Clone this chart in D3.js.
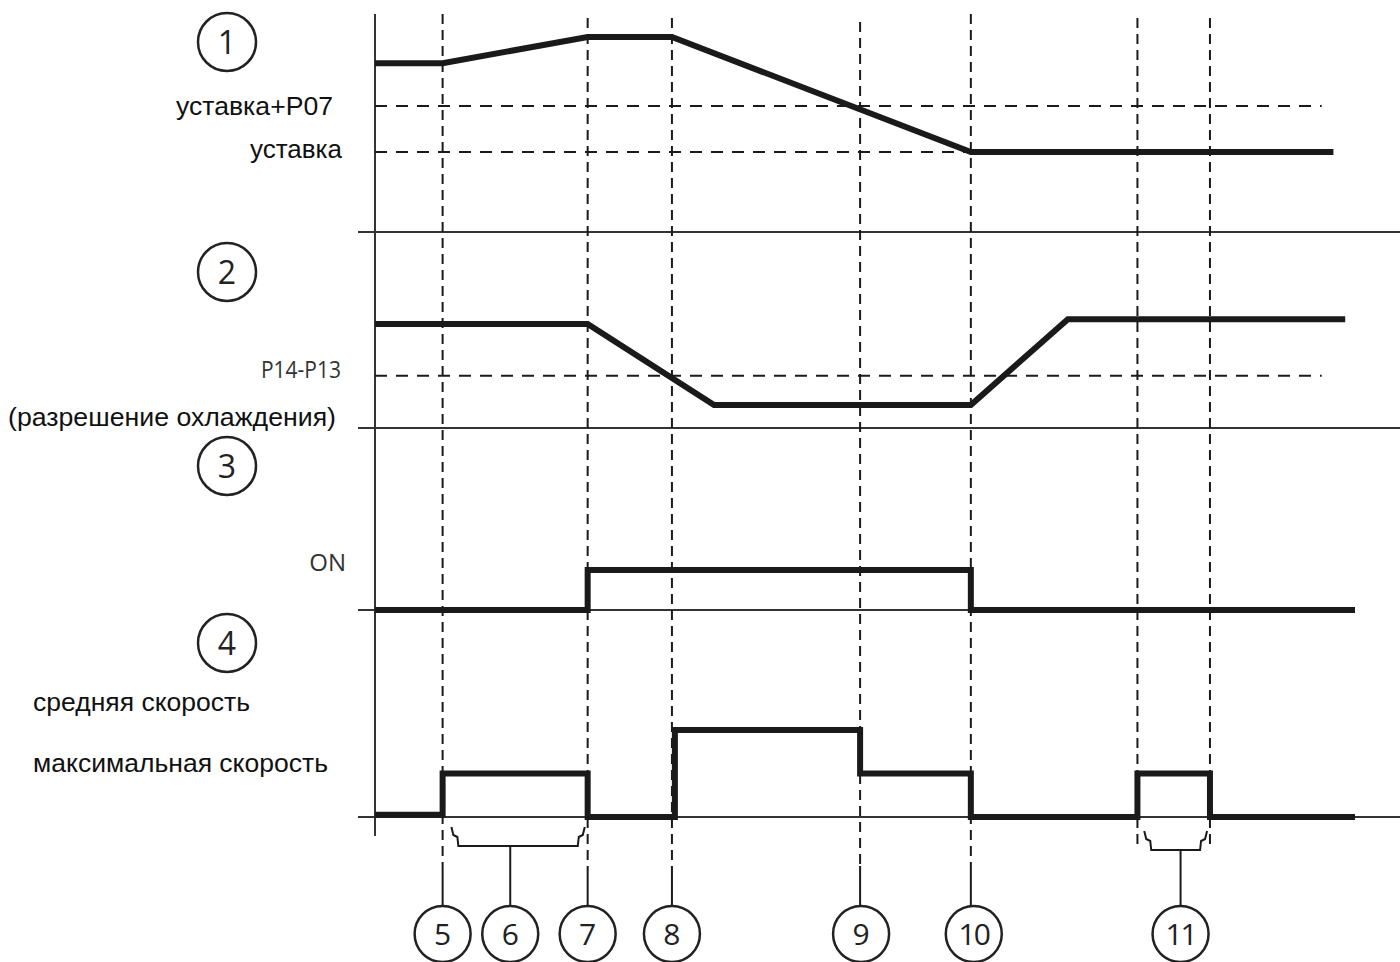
<!DOCTYPE html>
<html><head><meta charset="utf-8">
<script src="https://cdn.jsdelivr.net/npm/d3@7"></script>
<style>body{margin:0;background:#fff}svg{display:block}</style>
</head><body>
<svg id="c" width="1400" height="962"></svg>
<script>
// ---- data (time in abstract units 0..100, levels in panel units) ----
const events = [
  {id:"5", t:6.9},
  {id:"7", t:21.7},
  {id:"8", t:30.3},
  {id:"9", t:49.5},
  {id:"10", t:60.8},
  {id:"11a", t:77.8},
  {id:"11b", t:85.2}
];
const labelsBottom = [
  {n:"5", t:6.9}, {n:"6", t:13.8}, {n:"7", t:21.7}, {n:"8", t:30.3},
  {n:"9", t:49.6}, {n:"10", t:61.1}, {n:"11", t:82.2}
];
// panel 1: temperature (0 = уставка, 1 = уставка+P07)
const temp = [[0,1.93],[6.9,1.93],[21.7,2.5],[30.3,2.5],[60.8,0],[97.8,0]];
const tempRefs = [1, 0];
// panel 2: pressure (0 = low, 1 = high)
const press = [[0,1],[21.7,1],[34.6,0],[60.8,0],[70.7,1.06],[99,1.06]];
const pressRef = 0.36;
// panel 3: compressor
const comp = [[0,0],[21.7,0],[21.7,1],[60.8,1],[60.8,0],[100,0]];
// panel 4: fan speed (1 = средняя, 2 = максимальная)
const fan = [[0,0.05],[6.9,0.05],[6.9,1],[21.7,1],[21.7,0],[30.6,0],[30.6,2],[49.5,2],[49.5,1],[60.8,1],[60.8,0],[77.8,0],[77.8,1],[85.2,1],[85.2,0],[100,0]];
const panelNums = ["1","2","3","4"];

// ---- scales ----
const x = d3.scaleLinear().domain([0,100]).range([375,1355]);
const yT = d3.scaleLinear().domain([0,1]).range([152,106]);
const yP = d3.scaleLinear().domain([0,1]).range([405,324]);
const yC = d3.scaleLinear().domain([0,1]).range([610,570]);
const yF = d3.scaleLinear().domain([0,2]).range([817,730]);

const svg = d3.select("#c");
const ink = "#1a1a1a";
const thin = "#333";

// vertical axis
svg.append("line").attr("x1",x(0)).attr("x2",x(0)).attr("y1",14).attr("y2",836)
  .attr("stroke",thin).attr("stroke-width",2);

// horizontal separators / baselines
[[232,358,1400],[428,358,1400],[yC(0),358,1355],[yF(0),358,1400]].forEach(([y,a,b])=>{
  svg.append("line").attr("x1",a).attr("x2",b).attr("y1",y).attr("y2",y)
    .attr("stroke",thin).attr("stroke-width",2);
});

// dashed reference lines
tempRefs.forEach(v=>{
  svg.append("line").attr("x1",x(0)).attr("x2",x(96.6)).attr("y1",yT(v)).attr("y2",yT(v))
    .attr("stroke",ink).attr("stroke-width",2).attr("stroke-dasharray","12,9");
});
svg.append("line").attr("x1",x(0)).attr("x2",x(96.6)).attr("y1",yP(pressRef)).attr("y2",yP(pressRef))
  .attr("stroke",ink).attr("stroke-width",2).attr("stroke-dasharray","12,9");

// vertical dashed event lines
const tops = {"5":14,"7":18,"8":18,"9":22,"10":14,"11a":18,"11b":18};
events.forEach(e=>{
  const isB = e.id.startsWith("11");
  const bottomDash = isB ? 849 : 866;
  svg.append("line").attr("x1",x(e.t)).attr("x2",x(e.t)).attr("y1",tops[e.id]).attr("y2",bottomDash)
    .attr("stroke",ink).attr("stroke-width",2).attr("stroke-dasharray","10,6");
  if(!isB){
    svg.append("line").attr("x1",x(e.t)).attr("x2",x(e.t)).attr("y1",bottomDash).attr("y2",906)
      .attr("stroke",ink).attr("stroke-width",2);
  }
});

// brackets
function bracket(t0,t1,tc,yb,ytop){
  const a=x(t0), b=x(t1), c=x(tc);
  svg.append("path").attr("d",`M${a-3},${ytop} L${a-1},${ytop+8} L${a+3},${ytop+10} L${a+4},${yb} L${b-4},${yb} L${b-3},${ytop+10} L${b+1},${ytop+8} L${b+3},${ytop}`)
    .attr("fill","none").attr("stroke",ink).attr("stroke-width",2);
  svg.append("line").attr("x1",c).attr("x2",c).attr("y1",yb).attr("y2",906).attr("stroke",ink).attr("stroke-width",2);
}
bracket(8.1,21.1,13.8,846,827);
bracket(78.8,84.6,82.2,850,831);

// thick signal lines
const line = (ys)=>d3.line().x(d=>x(d[0])).y(d=>ys(d[1]));
[[temp,yT],[press,yP],[comp,yC],[fan,yF]].forEach(([d,ys])=>{
  svg.append("path").attr("d",line(ys)(d)).attr("fill","none")
    .attr("stroke",ink).attr("stroke-width",6).attr("stroke-linejoin","miter");
});

// circled numbers
function circ(cx,cy,r,txt,fs){
  svg.append("circle").attr("cx",cx).attr("cy",cy).attr("r",r).attr("fill","#fff")
    .attr("stroke","#222").attr("stroke-width",2.5);
  svg.append("text").attr("x",cx).attr("y",cy).attr("text-anchor","middle").attr("dy","0.36em")
    .attr("font-family","Open Sans, sans-serif").attr("font-size",fs).attr("fill","#222")
    .attr("letter-spacing", txt.length>1? -2:0).text(txt);
}
const leftCy = [42,272,466,643];
panelNums.forEach((n,i)=>circ(227,leftCy[i],29,n,32));
labelsBottom.forEach(l=>circ(x(l.t),934,28,l.n,30));

// texts
const sans = "Liberation Sans, Arial, sans-serif";
function lab(txt,xx,yy,anchor,w){
  svg.append("text").attr("x",xx).attr("y",yy).attr("text-anchor",anchor)
    .attr("font-family",sans).attr("font-size",25).attr("fill","#111")
    .attr("textLength",w).attr("lengthAdjust","spacingAndGlyphs").text(txt);
}
lab("уставка+P07",176,115,"start",157);
lab("уставка",342,158,"end",92);
lab("(разрешение охлаждения)",8,426,"start",328);
lab("средняя скорость",33,711,"start",217);
lab("максимальная скорость",33,772,"start",295);

svg.append("text").attr("x",341).attr("y",yP(pressRef)+2).attr("text-anchor","end")
  .attr("font-family","Open Sans, sans-serif").attr("font-size",23).attr("fill","#333")
  .attr("textLength",80).attr("lengthAdjust","spacingAndGlyphs").text("P14-P13");
svg.append("text").attr("x",346).attr("y",yC(1)+1).attr("text-anchor","end")
  .attr("font-family","Open Sans, sans-serif").attr("font-size",24).attr("fill","#333").text("ON");
</script>
</body></html>
